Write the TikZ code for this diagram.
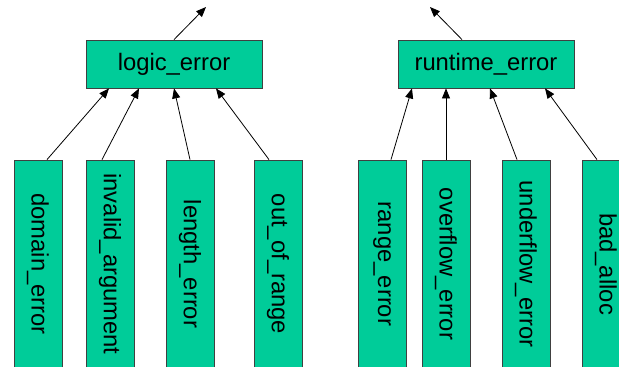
\documentclass[tikz,border=0pt]{standalone}
\usepackage{fontspec}
\setmainfont{Liberation Sans}
\usetikzlibrary{positioning,arrows.meta}
\definecolor{boxgreen}{RGB}{0,204,153}

\begin{document}
\begin{tikzpicture}[x=1pt,y=-1pt]
    \path[use as bounding box] (0,0) rectangle (619,367);
    %%%%% THE BASE CLASSES
    \begin{scope}[every node/.style={draw=black!75,fill=boxgreen,line width=0.8pt,
        font=\fontsize{23.8}{28}\selectfont,inner sep=0pt,
        minimum width=176pt,minimum height=48pt}]
      \node (LOGIC) at (174,64) {logic\_error};
      \node (RUNTIME) at (486,64) {runtime\_error};
    \end{scope}
    %%%%% THE DERIVED CLASSES
    \begin{scope}[every node/.style={draw=black!75,fill=boxgreen,line width=0.8pt,
        font=\fontsize{23.8}{28}\selectfont,inner sep=0pt,
        minimum width=48pt,minimum height=208pt}]
      \node (DOMAIN) at (38,264) {\rotatebox{-90}{domain\_error}};
      \node (INVALID) at (110,264) {\rotatebox{-90}{invalid\_argument}};
      \node (LENGTH) at (190,264) {\rotatebox{-90}{length\_error}};
      \node (OUTOF) at (278,264) {\rotatebox{-90}{out\_of\_range}};
      \node (RANGE) at (382,264) {\rotatebox{-90}{range\_error}};
      \node (OVERFLOW) at (446,264) {\rotatebox{-90}{overflow\_error}};
      \node (UNDERFLOW) at (526,264) {\rotatebox{-90}{underflow\_error}};
      \node (BADALLOC) at (606,264) {\rotatebox{-90}{bad\_alloc}};
    \end{scope}
    \coordinate (LOGICUP) at (206,7);
    \coordinate (RUNTIMEUP) at (430,7);
    %%%% LINKS FROM THE DERIVED CLASSES TO THE BASE CLASSES
    \begin{scope}[-{Triangle[length=10pt,width=8pt]},line width=0.8pt]
      \draw ([xshift=9pt]DOMAIN.north) to ([xshift=-65pt]LOGIC.south);
      \draw ([xshift=-8pt]INVALID.north) to ([xshift=-35pt]LOGIC.south);
      \draw (LENGTH.north) to ([xshift=0pt]LOGIC.south);
      \draw ([xshift=-9pt]OUTOF.north) to ([xshift=42pt]LOGIC.south);
      \draw ([xshift=9pt]RANGE.north) to ([xshift=-74pt]RUNTIME.south);
      \draw (OVERFLOW.north) to ([xshift=-40pt]RUNTIME.south);
      \draw ([xshift=-9pt]UNDERFLOW.north) to ([xshift=4pt]RUNTIME.south);
      \draw ([xshift=-9pt]BADALLOC.north) to ([xshift=59pt]RUNTIME.south);
      \draw (LOGIC.north) to (LOGICUP);
      \draw ([xshift=-24pt]RUNTIME.north) to (RUNTIMEUP);
    \end{scope}
\end{tikzpicture}
\end{document}
